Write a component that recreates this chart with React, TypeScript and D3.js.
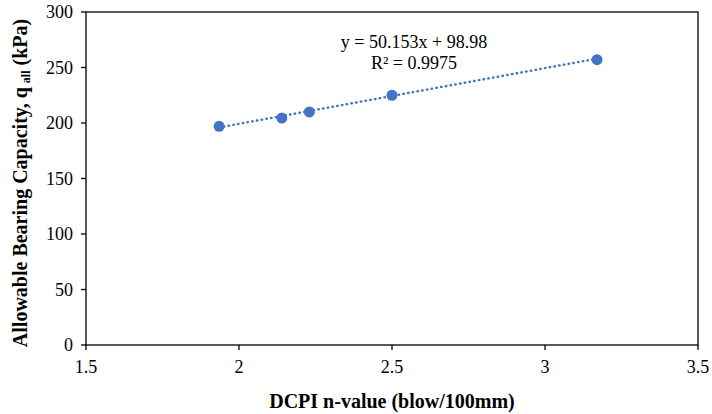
import React from "react";
import * as d3 from "d3";

const nValues = [1.935, 2.14, 2.23, 2.5, 3.17];
const capacity = [197, 204.5, 210, 225, 257];
const xTicks = [1.5, 2, 2.5, 3, 3.5];
const yTicks = [0, 50, 100, 150, 200, 250, 300];
const slope = 50.153;
const intercept = 98.98;

const W = 712;
const H = 414;
const m = { left: 86, top: 12, right: 14, bottom: 69 };
const font = "'Liberation Serif', 'Times New Roman', serif";
const blue = "#4472C4";

const App = () => {
    const x = d3.scaleLinear().domain([1.5, 3.5]).range([m.left, W - m.right]);
    const y = d3.scaleLinear().domain([0, 300]).range([H - m.bottom, m.top]);

    const pts = nValues.map((n, i) => ({ n, q: capacity[i] }));
    const x0 = d3.min(nValues) as number;
    const x1 = d3.max(nValues) as number;
    const trend = d3
        .line<number>()
        .x((d) => x(d))
        .y((d) => y(slope * d + intercept));

    return (
        <svg
            width={W}
            height={H}
            style={{ position: "absolute", left: 0, top: 0, background: "#fff" }}
            fontFamily={font}
        >
            <rect
                x={m.left}
                y={m.top}
                width={W - m.left - m.right}
                height={H - m.top - m.bottom}
                fill="none"
                stroke="#000"
                strokeWidth={1.3}
            />
            {yTicks.map((t) => (
                <g key={"y" + t}>
                    <line x1={m.left - 5} x2={m.left} y1={y(t)} y2={y(t)} stroke="#000" strokeWidth={1.3} />
                    <text x={m.left - 13} y={y(t)} dy="0.35em" textAnchor="end" fontSize={18}>
                        {t}
                    </text>
                </g>
            ))}
            {xTicks.map((t) => (
                <g key={"x" + t}>
                    <line x1={x(t)} x2={x(t)} y1={H - m.bottom} y2={H - m.bottom + 5} stroke="#000" strokeWidth={1.3} />
                    <text x={x(t)} y={H - m.bottom + 28} textAnchor="middle" fontSize={18}>
                        {t}
                    </text>
                </g>
            ))}
            <path
                d={trend([x0, x1]) || ""}
                fill="none"
                stroke={blue}
                strokeWidth={2.4}
                strokeLinecap="round"
                strokeDasharray="0.5 4.3"
            />
            {pts.map((p, i) => (
                <circle key={i} cx={x(p.n)} cy={y(p.q)} r={5.5} fill={blue} />
            ))}
            <text x={414} y={48} textAnchor="middle" fontSize={18}>
                y = 50.153x + 98.98
            </text>
            <text x={414} y={69} textAnchor="middle" fontSize={18}>
                R² = 0.9975
            </text>
            <text x={392} y={408} textAnchor="middle" fontSize={20} fontWeight="bold">
                DCPI n-value (blow/100mm)
            </text>
            <text
                transform={`translate(27,183) rotate(-90)`}
                textAnchor="middle"
                fontSize={20}
                fontWeight="bold"
            >
                Allowable Bearing Capacity, q
                <tspan fontSize={12} dx={4} dy={3}>all</tspan>
                <tspan dy={-3}> (kPa)</tspan>
            </text>
        </svg>
    );
};

export default App;
